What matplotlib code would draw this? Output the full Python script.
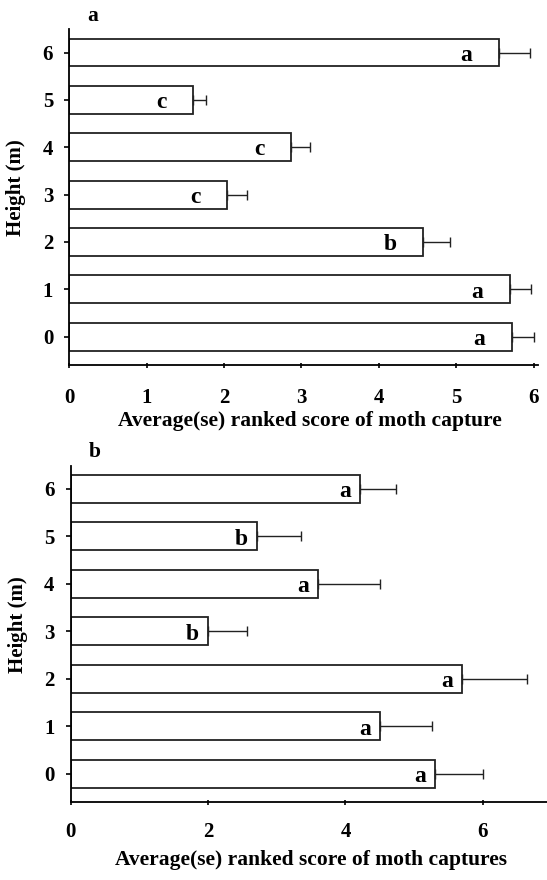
import matplotlib
matplotlib.use("Agg")
import matplotlib.pyplot as plt

plt.rcParams["font.family"] = ["Liberation Serif", "DejaVu Serif"]
plt.rcParams["font.weight"] = "bold"

# datos panel a
heights = [0, 1, 2, 3, 4, 5, 6]
score_a = [5.72, 5.69, 4.57, 2.04, 2.87, 1.60, 5.55]
se_a = [0.29, 0.28, 0.35, 0.26, 0.24, 0.16, 0.40]
letters_a = ["a", "a", "b", "c", "c", "c", "a"]

# datos panel b
score_b = [5.30, 4.50, 5.70, 2.00, 3.60, 2.71, 4.21]
se_b = [0.70, 0.76, 0.95, 0.57, 0.90, 0.65, 0.53]
letters_b = ["a", "a", "a", "b", "a", "b", "a"]

fig = plt.figure(figsize=(5.47, 8.8), dpi=100)
ax1 = fig.add_axes([0.1267, 0.5852, 0.856, 0.3815])
ax2 = fig.add_axes([0.1293, 0.0883, 0.8726, 0.3825])


def draw(ax, vals, errs, letters, xticks, xmax, xlabel, panel, offset,
         xpad, xlab_pos, ylab_pos):
    ax.barh(heights, vals, height=0.59, color="white", edgecolor="#222222", linewidth=1.3)
    ax.errorbar(vals, heights, xerr=[[0] * len(errs), errs], fmt="none",
                ecolor="#222222", elinewidth=1.0, capsize=3.6, capthick=1.0)
    for h, v, l in zip(heights, vals, letters):
        ax.annotate(l, (v, h), xytext=(offset, -2), textcoords="offset points",
                    ha="right", va="center", fontsize=17, fontweight="bold")
    ax.set_xlim(0, xmax)
    ax.set_ylim(-0.6, 6.49)
    ax.set_xticks(xticks)
    ax.set_yticks(heights)
    ax.tick_params(axis="both", labelsize=15, width=1.2, length=3.6)
    ax.tick_params(axis="y", pad=8)
    ax.tick_params(axis="x", direction="inout", pad=xpad)
    ax.spines["top"].set_visible(False)
    ax.spines["right"].set_visible(False)
    ax.spines["left"].set_linewidth(1.3)
    ax.spines["bottom"].set_linewidth(1.3)
    ax.set_xlabel(xlabel, fontsize=15.5, fontweight="bold", va="top")
    ax.xaxis.set_label_coords(*xlab_pos)
    ax.set_ylabel("Height (m)", fontsize=15, fontweight="bold")
    ax.yaxis.set_label_coords(*ylab_pos)
    ax.text(0.05, 1.01, panel, transform=ax.transAxes, fontsize=15.5,
            fontweight="bold", ha="center", va="bottom")


draw(ax1, score_a, se_a, letters_a, [0, 1, 2, 3, 4, 5, 6], 6.05,
     "Average(se) ranked score of moth capture", "a", -19,
     15, (0.514, -0.137), (-0.093, 0.527))
draw(ax2, score_b, se_b, letters_b, [0, 2, 4, 6], 6.95,
     "Average(se) ranked score of moth captures", "b", -6.5,
     12.5, (0.503, -0.142), (-0.09, 0.527))

fig.savefig("out.png", dpi=100)
